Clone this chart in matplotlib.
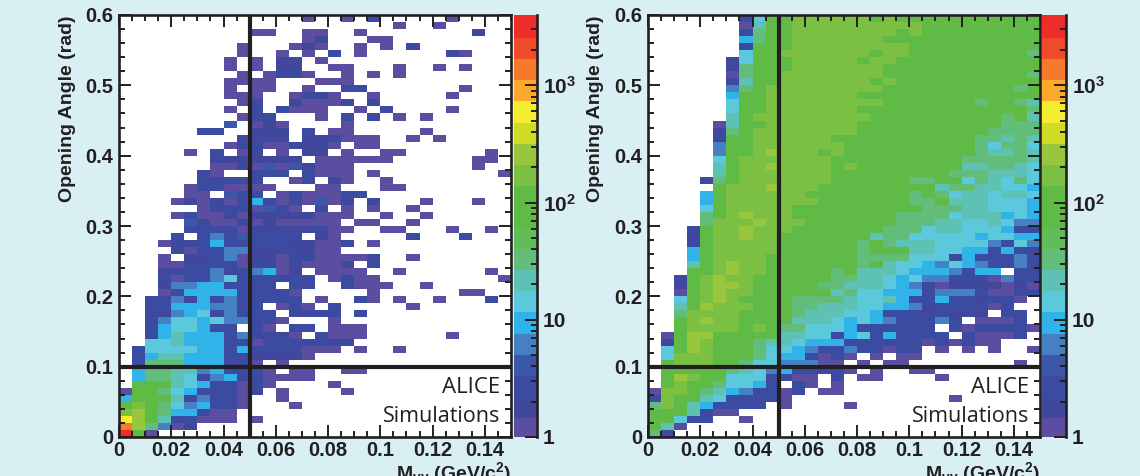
import numpy as np
import matplotlib
matplotlib.use('Agg')
import matplotlib.pyplot as plt
from matplotlib.colors import ListedColormap, LogNorm
from matplotlib.ticker import LogLocator, MultipleLocator, NullFormatter

plt.rcParams['font.family'] = 'Liberation Sans'
plt.rcParams['font.weight'] = 'bold'
plt.rcParams['mathtext.fontset'] = 'custom'
plt.rcParams['mathtext.rm'] = 'Liberation Sans:bold'
plt.rcParams['mathtext.it'] = 'Liberation Sans:bold'
plt.rcParams['mathtext.bf'] = 'Liberation Sans:bold'

# one char per cell: '.' = empty, 1..9,a..k = colour bin of the palette
# groups are columns 0-9, 10-16, 17-29, rows go from top (0.6) to bottom (0)
left_rows = [
    ".......... ....1.. 1.3.....1....",
    ".......... ....... ....1..1.....",
    ".......... 11..11. .1........2..",
    ".......... ....12. ..11.........",
    ".........1 ...121. .1.1.3.......",
    ".........1 ..1.1.3 .1......31...",
    "........1. 1.22.1. .............",
    "........1. 1.22..1 1...1..1.1...",
    ".........1 .1331.. 1.1.1........",
    "........11 11...11 1............",
    "........1. 11..1.. 33.......1...",
    "........11 1..1321 ..1.....1....",
    ".........1 3..2111 3.3..........",
    "........1. 3.3111. .1.3....1....",
    ".........1 23...1. 3.3.1.1......",
    "........4. 121.... 1............",
    "......33.. 222.3.1 1.....1......",
    ".........3 222.223 111..1.1.....",
    "........13 3113221 .11..........",
    ".....1.3.1 2.1.22. 1..11......1.",
    ".......222 2222.11 1111......11.",
    ".......113 1414211 1.........1..",
    "......31.. 333.311 1.1.........1",
    "......3333 2..13.2 1..1.........",
    ".....13311 11...11 ...11........",
    ".....11.43 3.13111 33...........",
    "....121213 6313141 3.3...1...1..",
    "......1333 1431.3. 1.1..1.......",
    "....131121 2222211 1..1..1......",
    ".....42113 1211111 .11..1.......",
    ".....33331 2222231 1..11...1..1.",
    "....3.3534 3333.21 .....3...3...",
    "...1223633 3332211 3.1..........",
    "....313355 2222211 .............",
    "...1.22351 2213311 113..1.......",
    "...1133331 3213111 3.3..........",
    "...2333523 5612.11 11..1......1.",
    "...3133573 33333.1 311.........1",
    "...2556633 33.33.. 3111..1......",
    "...1366663 3331... ..1......11..",
    "..33536353 3333.1. .31.1..1...3.",
    "..33666553 3.131.3 .....1.......",
    "..22567353 33.3333 .3...........",
    "..35776755 331...1 .............",
    "..3677633. 31.33.1 11...........",
    "..36866635 2221.31 11......1....",
    "..77866633 1333333 3............",
    ".377776636 3333111 .1..1........",
    ".368866633 22221.. .............",
    ".399966633 1.1.... .............",
    ".699885633 31.11.. 11...........",
    ".699873563 31111.. .............",
    ".ccc876331 31....1 .............",
    "1cc9763331 3.1.... 1............",
    "6ccc835331 ..1.... .............",
    "cdc9756331 ...1... .............",
    "dec966311. ....... .............",
    "gec833111. 1...... .............",
    "ie9512.... ....... .............",
    "kc1....... ....... .............",
]

right_rows = [
    ".......37c cdddddd cdccccccccccc",
    ".......18c cdddddd ddddccccccccc",
    ".......39c cdddddd ddcdccccccccc",
    ".......69c cdddddd dcccccccccccc",
    ".......3cc cdddddd dddcccccccccc",
    ".......7cc ddddddd cddccccccccc9",
    "......27bc cdddddc ddccccccccccc",
    "......29cc cdddddd dcccccccccccc",
    "......19cc ddddddd dccccccccccc9",
    "......38cc ddddddd cdccccccccccc",
    "......59cd ddddddd dcccccccccc9c",
    "......6bcd ddddddc ccccccccccccc",
    "......7bcd ddddddd dccccccc9cc98",
    "......7ccd ddddddc cccccccccccc9",
    "......8cdd ddddddd cccccccccc9c8",
    ".....18ccd ddddddc cccccccccc999",
    ".....29cdd ddddddc ccccccccc9999",
    ".....2bcdd ddddccc cccccccc99898",
    ".....5bcdd dddddcc cccccccc97997",
    ".....5ccde dddcdcc cccccccc98898",
    ".....7cddd ddddccc ccccccc999998",
    ".....8cdde ddddcdc ccccccc889987",
    ".....8cddd ddddccc cccccc9998887",
    "....39cddd ddddccc ccc99cc798797",
    ".....bddde dddcccc ccccc89988776",
    "....6cdddd ddccccc ccc9c97887887",
    "....6cdddd dddcccc ccc99c8887776",
    "....7cdddd dcccccc cccc999887776",
    "....9cdedd dcccccc cc99997888676",
    "....9ddded ddccccc cc99988778755",
    "...3cddedd dcccccc c999788777633",
    "...2cddedd ccccccc 8997777767766",
    "...3cddddd cccccc9 c988877775375",
    "...6cddddd cccccc9 ccc8877663633",
    "...6cddddc cccccc9 9997773633353",
    "...8cdeddc cccccc9 c877657653353",
    "...ccdeddc cccc9c8 8876665366.33",
    "..3cdeddcc cccc998 8767553331533",
    "..2cdeedcc ccc9988 8765312222121",
    "..1cdeddcc cccc897 7666355531133",
    "..7cdedccc c999987 786336332331.",
    "..8cedddcc c998887 76652333313..",
    "..9ddddccc c988877 633323222.33.",
    "..cdeddccc c888767 6533353.1113.",
    "..cddddcdc 9977763 33333.3133331",
    ".1ceeccccc 8877367 363333.31113.",
    ".2cedccc98 8766633 3333131311...",
    ".7cedccc97 7653353 3133.1.1.1..1",
    ".7dddccc97 663131. 1.11.........",
    ".cdddcc977 55511.1 .11........1.",
    ".ccccc9875 633331. 1..11........",
    ".cedcc7773 311.3.1 1....1.......",
    ".cdcc97763 .31.1.. .............",
    "1ddc986533 13.11.. .............",
    "3dcc873333 1...... ......1......",
    "9dc863333. 1....1. .............",
    "ccc8311... ....... .............",
    "cc733..1.. ....... .............",
    "c81....... ....... .............",
    "93........ ....... .............",
]

palette = ['#5b4da0', '#40489e', '#3a4ba1', '#3a57a8', '#4580c2', '#2fb3e8', '#5bc8dc',
           '#5dc2b3', '#61bd79', '#62bc58', '#5fbb46', '#5fbb46', '#7bbf43', '#98c63d',
           '#cfdc25', '#f3ec2f', '#fba82b', '#f6792d', '#ef4b2a', '#ee2d2b']
bin_chars = '123456789abcdefghijk'

x_ticks = [0, 0.02, 0.04, 0.06, 0.08, 0.1, 0.12, 0.14]
x_labels = ['0', '0.02', '0.04', '0.06', '0.08', '0.1', '0.12', '0.14']
y_ticks = [0, 0.1, 0.2, 0.3, 0.4, 0.5, 0.6]
y_labels = ['0', '0.1', '0.2', '0.3', '0.4', '0.5', '0.6']
z_ticks = [1, 10, 100, 1000]
z_labels = ['1', '10', r'$\mathbf{10^{2}}$', r'$\mathbf{10^{3}}$']

x_max = 0.15
y_max = 0.6
z_max = 3981
dark = '#231f20'
W, H = 1140, 476


def to_counts(rows):
    grid = np.full((60, 30), np.nan)
    for r, row in enumerate(rows):
        row = row.replace(' ', '')
        assert len(row) == 30, (r, row)
        for c, ch in enumerate(row):
            if ch != '.':
                # middle of the colour bin on the log scale
                grid[59 - r, c] = 10 ** ((bin_chars.index(ch) + 0.5) / 20 * np.log10(z_max))
    return grid


def px_axes(fig, left, right, top, bottom):
    return fig.add_axes([left / W, (H - bottom) / H, (right - left) / W, (bottom - top) / H])


def panel(fig, rows, left, cb_left, cb_right):
    ax = px_axes(fig, left, left + 392, 15, 437)
    x_edges = np.linspace(0, x_max, 31)
    y_edges = np.linspace(0, y_max, 61)
    mesh = ax.pcolormesh(x_edges, y_edges, to_counts(rows), cmap=cmap,
                         norm=LogNorm(1, z_max), linewidth=0, rasterized=True)
    ax.axvline(0.05, color=dark, lw=3)
    ax.axhline(0.1, color=dark, lw=3)
    ax.set_xlim(0, x_max)
    ax.set_ylim(0, y_max)
    ax.set_xticks(x_ticks, x_labels)
    ax.set_yticks(y_ticks, y_labels)
    ax.xaxis.set_minor_locator(MultipleLocator(0.005))
    ax.yaxis.set_minor_locator(MultipleLocator(0.02))
    ax.tick_params(which='major', direction='in', top=True, right=True, length=8.5, width=1.4,
                   color=dark, labelcolor=dark, labelsize=14.5)
    ax.tick_params(which='minor', direction='in', top=True, right=True, length=4, width=1.4, color=dark)
    ax.tick_params(axis='x', which='major', pad=3)
    ax.tick_params(axis='y', which='major', pad=4)
    for s in ax.spines.values():
        s.set_linewidth(1.9)
        s.set_color(dark)
    ax.text(-52 / 392, 1.0, 'Opening Angle (rad)', transform=ax.transAxes, rotation=90,
            ha='center', va='top', fontsize=14, color=dark)
    ax.text(381 / 392, 0.104, 'ALICE', ha='right', va='baseline', transform=ax.transAxes,
            family='Open Sans', weight='normal', fontsize=16, color=dark)
    ax.text(381 / 392, 0.0355, 'Simulations', ha='right', va='baseline', transform=ax.transAxes,
            family='Open Sans', weight='normal', fontsize=15.5, color=dark)
    fig.text((left + 392) / W, (H - 480) / H, r'M$_{\gamma\gamma}$ (GeV/c$^{2}$)', ha='right',
             va='baseline', fontsize=14, color=dark)

    cax = px_axes(fig, cb_left, cb_right, 15, 437)
    cb = fig.colorbar(mesh, cax=cax)
    cb.outline.set_visible(False)
    cb.solids.set_edgecolor('face')
    cax.spines['right'].set_visible(True)
    cax.spines['right'].set_linewidth(1.9)
    cax.spines['right'].set_color(dark)
    cax.yaxis.set_ticks(z_ticks, z_labels)
    cax.yaxis.set_minor_locator(LogLocator(base=10, subs=np.arange(2, 10)))
    cax.yaxis.set_minor_formatter(NullFormatter())
    cax.tick_params(which='major', direction='in', right=True, length=8.5, width=1.4, pad=4,
                    color=dark, labelcolor=dark, labelsize=15)
    cax.tick_params(which='minor', direction='in', right=True, length=4, width=1.4, color=dark)


cmap = ListedColormap(palette)
fig = plt.figure(figsize=(W / 100, H / 100), dpi=100, facecolor='#d8eff4')
panel(fig, left_rows, 119, 514, 537)
panel(fig, right_rows, 648, 1042, 1066)
fig.savefig('out.png', dpi=100, facecolor=fig.get_facecolor())
